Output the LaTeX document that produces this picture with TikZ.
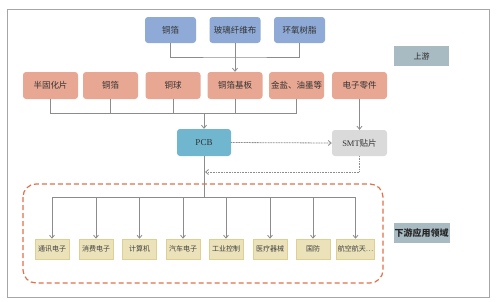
\documentclass[tikz,border=0pt]{standalone}
\usepackage{fontspec}
\newfontfamily\cjk{Noto Sans CJK SC}
\newfontfamily\latin{Liberation Serif}
\usetikzlibrary{positioning,arrows.meta,calc}
\definecolor{rawblue}{RGB}{143,170,214}
\definecolor{matsalmon}{RGB}{232,167,146}
\definecolor{pcbblue}{RGB}{111,182,206}
\definecolor{smtgray}{RGB}{218,218,218}
\definecolor{appfill}{RGB}{236,226,186}
\definecolor{appline}{RGB}{222,208,146}
\definecolor{tagfill}{RGB}{168,186,194}
\definecolor{dashorange}{RGB}{226,112,72}
\definecolor{linkgray}{RGB}{140,140,140}
\tikzset{
  rawbox/.style={fill=rawblue,rounded corners=3pt,minimum width=51,minimum height=26,inner sep=1pt,font=\cjk\fontsize{8.5}{10}\selectfont,text=black!80},
  matbox/.style={fill=matsalmon,rounded corners=3pt,minimum width=55,minimum height=27,inner sep=1pt,font=\cjk\fontsize{8.5}{10}\selectfont,text=black!80},
  appbox/.style={fill=appfill,draw=appline,line width=0.6pt,minimum width=34,minimum height=20,inner sep=1pt,font=\cjk\fontsize{7}{8}\selectfont,text=black!75},
  tagbox/.style={fill=tagfill,minimum width=55,minimum height=20,inner sep=1pt,text=black!85},
  link/.style={draw=linkgray,line width=0.8pt},
  dotlink/.style={draw=linkgray,line width=0.8pt,dash pattern=on 1pt off 0.6pt},
  tip/.style={-{Straight Barb[length=3pt,width=5pt]}}
}
\begin{document}
\begin{tikzpicture}[x=1pt,y=-1pt]
\useasboundingbox (0,0) rectangle (498,301);
\draw[black!35,line width=0.8pt] (7,9) rectangle (489,297);
% raw materials
\node[rawbox] (t1) at (170.5,30) {铜箔};
\node[rawbox] (t2) at (235,30) {玻璃纤维布};
\node[rawbox] (t3) at (299.5,30) {环氧树脂};
% materials
\node[matbox] (s1) at (50.5,85.5) {半固化片};
\node[matbox] (s2) at (110.5,85.5) {铜箔};
\node[matbox] (s3) at (173,85.5) {铜球};
\node[matbox] (s4) at (235,85.5) {铜箔基板};
\node[matbox] (s5) at (296.5,85.5) {金盐、油墨等};
\node[matbox] (s6) at (359.5,85.5) {电子零件};
% pcb and smt
\node[fill=pcbblue,rounded corners=3pt,minimum width=54,minimum height=27,font=\latin\fontsize{9}{10}\selectfont,text=black!80] (pcb) at (204,142.5) {PCB};
\node[fill=smtgray,rounded corners=3pt,minimum width=55,minimum height=26,font=\fontsize{8.5}{10}\selectfont,text=black!80] (smt) at (359.5,143) {{\latin SMT}{\cjk 贴片}};
% applications
\foreach \xx/\nm/\lbl in {52/a1/通讯电子,96/a2/消费电子,139.5/a3/计算机,183/a4/汽车电子,226/a5/工业控制,270/a6/医疗器械,313/a7/国防,355.5/a8/航空航天…}
  {\node[appbox] (\nm) at (\xx,249) {\lbl};}
\draw[dashorange,line width=1.2pt,dash pattern=on 5pt off 3pt,rounded corners=13pt] (23,184) rectangle (383,283);
% tags
\node[tagbox,font=\cjk\fontsize{8}{9}\selectfont] (up) at (421.5,56) {上游};
\node[tagbox,font=\cjk\bfseries\fontsize{9}{10}\selectfont] (down) at (421.5,233) {下游应用领域};
% links
\coordinate (topbus) at (235,57);
\draw[link] (t1.south) |- (topbus) -| (t3.south);
\draw[link,tip] (t2.south) -- (s4.north);
\coordinate (midbus) at (204,113);
\foreach \nm in {s1,s2,s3,s4,s5}
  {\draw[link] (\nm.south) |- (midbus);}
\draw[link,tip] (midbus) -- (pcb.north);
\draw[link,tip] (s6.south) -- (smt.north);
\draw[dotlink,tip] (pcb.east) -- (smt.west);
\coordinate (back) at (205,172);
\draw[dotlink,tip] (smt.south) |- (back);
\coordinate (appbus) at (204,197);
\draw[link] (pcb.south) -- (appbus);
\draw[link] (a1.north |- appbus) -- (a8.north |- appbus);
\foreach \nm in {a1,a2,a3,a4,a5,a6,a7,a8}
  {\draw[link,tip] (\nm.north |- appbus) -- (\nm.north);}
\end{tikzpicture}
\end{document}
